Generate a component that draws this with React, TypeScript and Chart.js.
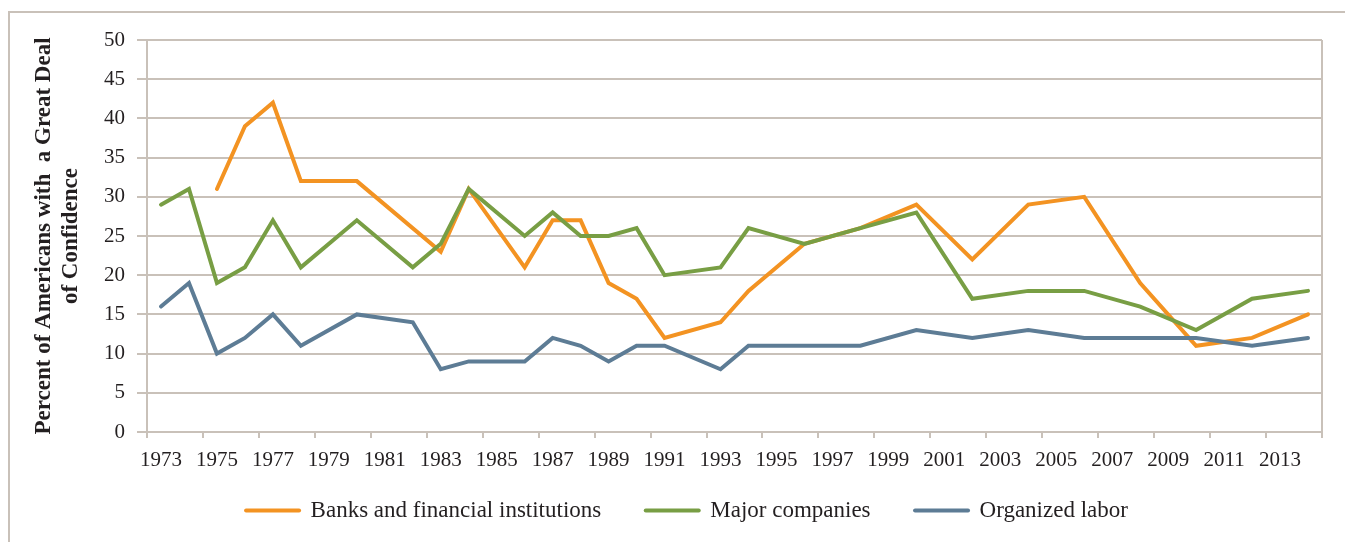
import React, { useEffect, useRef } from 'react';
import { Chart, registerables } from 'chart.js';

Chart.register(...registerables);

const years = [
  '1973', '1974', '1975', '1976', '1977', '1978', '1979', '1980', '1981', '1982',
  '1983', '1984', '1985', '1986', '1987', '1988', '1989', '1990', '1991', '1992',
  '1993', '1994', '1995', '1996', '1997', '1998', '1999', '2000', '2001', '2002',
  '2003', '2004', '2005', '2006', '2007', '2008', '2009', '2010', '2011', '2012',
  '2013', '2014',
];

const banks = [
  null, null, 31, 39, 42, 32, null, 32, null, null,
  23, 31, null, 21, 27, 27, 19, 17, 12, null,
  14, 18, null, 24, null, 26, null, 29, null, 22,
  null, 29, null, 30, null, 19, null, 11, null, 12,
  null, 15,
];

const majorCompanies = [
  29, 31, 19, 21, 27, 21, null, 27, null, 21,
  24, 31, null, 25, 28, 25, 25, 26, 20, null,
  21, 26, null, 24, null, 26, null, 28, null, 17,
  null, 18, null, 18, null, 16, null, 13, null, 17,
  null, 18,
];

const organizedLabor = [
  16, 19, 10, 12, 15, 11, null, 15, null, 14,
  8, 9, null, 9, 12, 11, 9, 11, 11, null,
  8, 11, null, 11, null, 11, null, 13, null, 12,
  null, 13, null, 12, null, 12, null, 12, null, 11,
  null, 12,
];

const seriesLabels = ['Banks and financial institutions', 'Major companies', 'Organized labor'];
const yTitle = ['Percent of Americans with  a Great Deal', 'of Confidence'];

const ORANGE = '#F39322';
const GREEN = '#789E44';
const BLUE = '#5D7C95';
const GRID = '#C9C1B9';
const TEXT = '#231F20';
const FONT = "'Liberation Serif', serif";

const legendShift = {
  id: 'legendShift',
  afterUpdate(chart: any) {
    if (chart.legend) {
      chart.legend.left += 22;
      chart.legend.right += 22;
    }
  },
};

export default function App() {
  const canvasRef = useRef<HTMLCanvasElement | null>(null);

  useEffect(() => {
    const canvas = canvasRef.current;
    if (!canvas) return;
    const mk = (label: string, data: (number | null)[], color: string, order: number) => ({
      label,
      data,
      borderColor: color,
      backgroundColor: color,
      borderWidth: 4,
      pointRadius: 0,
      pointHoverRadius: 0,
      tension: 0,
      spanGaps: true,
      borderCapStyle: 'round' as const,
      borderJoinStyle: 'miter' as const,
      order,
    });
    const chart = new Chart(canvas, {
      type: 'line',
      data: {
        labels: years,
        datasets: [
          mk(seriesLabels[0], banks, ORANGE, 3),
          mk(seriesLabels[1], majorCompanies, GREEN, 2),
          mk(seriesLabels[2], organizedLabor, BLUE, 1),
        ],
      },
      plugins: [legendShift],
      options: {
        responsive: false,
        animation: false,
        layout: { padding: { top: 32, right: 31, left: 0, bottom: 10 } },
        plugins: {
          tooltip: { enabled: false },
          legend: {
            position: 'bottom',
            labels: {
              usePointStyle: true,
              pointStyle: 'line',
              pointStyleWidth: 53,
              padding: 10,
              color: TEXT,
              font: { family: FONT, size: 23 },
              sort: (a: any, b: any) => a.datasetIndex - b.datasetIndex,
              generateLabels: (ch: any) => {
                const items = Chart.defaults.plugins.legend.labels.generateLabels(ch);
                return items.map((it: any) => ({
                  ...it,
                  text: it.datasetIndex < 2 ? it.text + '      ' : it.text,
                  lineWidth: 4,
                  lineCap: 'round',
                }));
              },
            },
          },
        },
        scales: {
          x: {
            type: 'category',
            offset: true,
            afterFit: (s: any) => { s.height = 57; },
            grid: {
              offset: true,
              drawOnChartArea: true,
              drawTicks: true,
              tickLength: 6,
              lineWidth: 2,
              color: (c: any) => (c.type !== 'tick' ? GRID : 'rgba(0,0,0,0)'),
              tickColor: (c: any) => (c.type !== 'tick' || c.index % 2 === 0 ? GRID : 'rgba(0,0,0,0)'),
            },
            border: { display: true, color: GRID, width: 2 },
            ticks: {
              autoSkip: false,
              maxRotation: 0,
              minRotation: 0,
              padding: 10,
              color: TEXT,
              font: { family: FONT, size: 21 },
              callback: function (this: any, _v: any, i: number) {
                return i % 2 === 0 ? years[i] : '';
              },
            },
          },
          y: {
            min: 0,
            max: 50,
            afterFit: (s: any) => { s.width = 139; },
            grid: {
              color: GRID,
              lineWidth: 2,
              drawTicks: true,
              tickLength: 10,
            },
            border: { display: true, color: GRID, width: 2 },
            ticks: {
              stepSize: 5,
              padding: 12,
              color: TEXT,
              font: { family: FONT, size: 21 },
            },
            title: {
              display: true,
              text: yTitle,
              color: TEXT,
              font: { family: FONT, size: 23, weight: 'bold', lineHeight: 1.2 },
              padding: { top: 22, bottom: 0 },
            },
          },
        },
      },
    } as any);
    return () => chart.destroy();
  }, []);

  return (
    <div style={{ position: 'relative', width: 1345, height: 534, overflow: 'hidden' }}>
      <div
        style={{
          position: 'absolute',
          left: 0,
          top: 3,
          width: 1339,
          height: 600,
          borderTop: `2px solid ${GRID}`,
          borderLeft: `2px solid ${GRID}`,
          borderRight: `2px solid ${GRID}`,
        }}
      />
      <canvas
        ref={canvasRef}
        width={1345}
        height={534}
        style={{ position: 'absolute', left: 0, top: 0, width: 1345, height: 534 }}
      />
    </div>
  );
}
